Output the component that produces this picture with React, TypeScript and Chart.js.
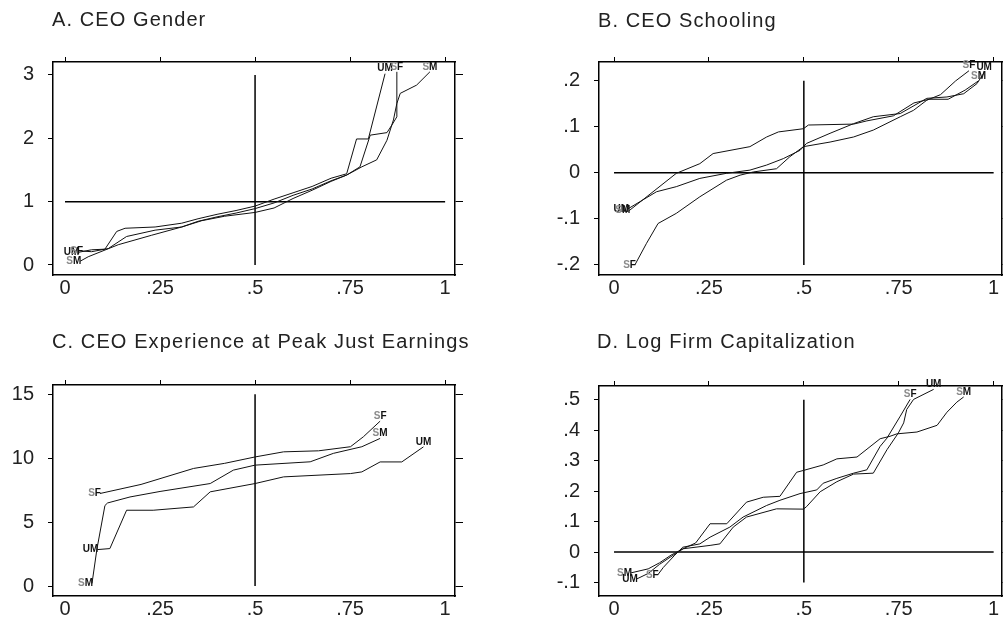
import React, { useEffect, useRef } from "react";
import { Chart, registerables } from "chart.js";

Chart.register(...registerables);

type Pair = [number, number];

// ---------- shared x axis ----------
const xTickValues = [0, 0.25, 0.5, 0.75, 1];
const xTickLabels = ["0", ".25", ".5", ".75", "1"];

// ---------- A. CEO Gender ----------
const genderTitle = "A. CEO Gender";
const genderTicks = [0, 1, 2, 3];
const genderTickLabels = ["0", "1", "2", "3"];
const genderRef = 1;
const genderUM: Pair[] = [
  [0.035, 0.2], [0.07, 0.24], [0.105, 0.25], [0.136, 0.53], [0.158, 0.58], [0.237, 0.6],
  [0.307, 0.66], [0.35, 0.73], [0.4, 0.8], [0.45, 0.86], [0.5, 0.93], [0.55, 1.04],
  [0.6, 1.14], [0.65, 1.24], [0.7, 1.37], [0.741, 1.44], [0.767, 1.99], [0.798, 1.99], [0.842, 3.02],
];
const genderSF: Pair[] = [
  [0.045, 0.22], [0.07, 0.21], [0.114, 0.26], [0.162, 0.45], [0.237, 0.55], [0.307, 0.6],
  [0.35, 0.69], [0.4, 0.76], [0.45, 0.82], [0.5, 0.89], [0.55, 0.98], [0.6, 1.1], [0.65, 1.2],
  [0.7, 1.33], [0.741, 1.42], [0.776, 1.55], [0.803, 2.05], [0.847, 2.09], [0.86, 2.21],
  [0.873, 2.34], [0.873, 3.05],
];
const genderSM: Pair[] = [
  [0.04, 0.06], [0.061, 0.13], [0.14, 0.32], [0.228, 0.47], [0.307, 0.6], [0.36, 0.7],
  [0.42, 0.77], [0.5, 0.83], [0.55, 0.9], [0.6, 1.05], [0.65, 1.18], [0.7, 1.32], [0.741, 1.42],
  [0.781, 1.55], [0.82, 1.66], [0.847, 1.97], [0.864, 2.29], [0.873, 2.55], [0.882, 2.71],
  [0.925, 2.84], [0.96, 3.05],
];

// ---------- B. CEO Schooling ----------
const schoolTitle = "B. CEO Schooling";
const schoolTicks = [-0.2, -0.1, 0, 0.1, 0.2];
const schoolTickLabels = ["-.2", "-.1", "0", ".1", ".2"];
const schoolRef = 0;
const schoolUM: Pair[] = [
  [0.037, -0.078], [0.112, -0.041], [0.164, -0.03], [0.226, -0.012], [0.296, -0.001],
  [0.358, 0.006], [0.402, 0.017], [0.446, 0.031], [0.49, 0.049], [0.507, 0.064], [0.569, 0.086],
  [0.631, 0.107], [0.683, 0.122], [0.754, 0.129], [0.824, 0.162], [0.877, 0.165], [0.921, 0.172],
  [0.956, 0.194], [0.975, 0.218],
];
const schoolSM: Pair[] = [
  [0.04, -0.082], [0.164, -0.001], [0.226, 0.02], [0.261, 0.042], [0.358, 0.057], [0.402, 0.078],
  [0.433, 0.089], [0.499, 0.096], [0.512, 0.104], [0.631, 0.106], [0.666, 0.113], [0.736, 0.124],
  [0.79, 0.152], [0.83, 0.16], [0.88, 0.16], [0.925, 0.18], [0.96, 0.2],
];
const schoolSF: Pair[] = [
  [0.055, -0.2], [0.085, -0.154], [0.116, -0.11], [0.164, -0.088], [0.226, -0.052],
  [0.296, -0.016], [0.332, -0.005], [0.367, 0.002], [0.428, 0.009], [0.463, 0.035],
  [0.499, 0.057], [0.569, 0.067], [0.631, 0.078], [0.683, 0.093], [0.754, 0.122],
  [0.789, 0.136], [0.824, 0.158], [0.86, 0.17], [0.9, 0.2], [0.935, 0.222],
];

// ---------- C. CEO Experience ----------
const expTitle = "C. CEO Experience at Peak Just Earnings";
const expTicks = [0, 5, 10, 15];
const expTickLabels = ["0", "5", "10", "15"];
const expSF: Pair[] = [
  [0.092, 7.24], [0.2, 7.95], [0.338, 9.2], [0.42, 9.6], [0.5, 10.1], [0.575, 10.5],
  [0.667, 10.58], [0.751, 10.9], [0.785, 11.68], [0.829, 12.9],
];
const expSM: Pair[] = [
  [0.071, 0.2], [0.084, 2.9], [0.105, 6.3], [0.112, 6.5], [0.171, 6.97], [0.25, 7.4],
  [0.382, 8.02], [0.443, 9.07], [0.5, 9.46], [0.645, 9.72], [0.706, 10.38], [0.781, 10.9],
  [0.829, 11.55],
];
const expUM: Pair[] = [
  [0.085, 2.85], [0.118, 2.93], [0.162, 5.93], [0.232, 5.93], [0.338, 6.19], [0.382, 7.37],
  [0.5, 8.02], [0.575, 8.54], [0.751, 8.8], [0.781, 8.93], [0.829, 9.71], [0.886, 9.71],
  [0.943, 10.89],
];

// ---------- D. Log Firm Capitalization ----------
const capTitle = "D. Log Firm Capitalization";
const capTicks = [-0.1, 0, 0.1, 0.2, 0.3, 0.4, 0.5];
const capTickLabels = ["-.1", "0", ".1", ".2", ".3", ".4", ".5"];
const capRef = 0;
const capSM: Pair[] = [
  [0.045, -0.068], [0.09, -0.055], [0.12, -0.035], [0.15, -0.01], [0.182, 0.011], [0.215, 0.03],
  [0.253, 0.093], [0.297, 0.093], [0.349, 0.164], [0.393, 0.18], [0.437, 0.183], [0.481, 0.262],
  [0.499, 0.268], [0.551, 0.286], [0.587, 0.306], [0.64, 0.312], [0.701, 0.372], [0.727, 0.38],
  [0.745, 0.388], [0.798, 0.394], [0.851, 0.416], [0.877, 0.459], [0.903, 0.492], [0.921, 0.509],
];
const capUM: Pair[] = [
  [0.06, -0.088], [0.09, -0.07], [0.12, -0.04], [0.15, -0.015], [0.182, 0.011], [0.253, 0.022],
  [0.279, 0.027], [0.314, 0.082], [0.349, 0.115], [0.428, 0.142], [0.499, 0.141], [0.507, 0.149],
  [0.543, 0.198], [0.587, 0.231], [0.631, 0.256], [0.683, 0.259], [0.719, 0.336], [0.749, 0.391],
  [0.763, 0.424], [0.771, 0.468], [0.789, 0.501], [0.842, 0.534],
];
const capSF: Pair[] = [
  [0.115, -0.075], [0.13, -0.05], [0.16, -0.01], [0.181, 0.016], [0.226, 0.027], [0.253, 0.049],
  [0.305, 0.082], [0.34, 0.115], [0.402, 0.153], [0.437, 0.17], [0.49, 0.192], [0.534, 0.204],
  [0.551, 0.226], [0.587, 0.242], [0.631, 0.259], [0.666, 0.27], [0.701, 0.347], [0.719, 0.374],
  [0.754, 0.446], [0.78, 0.501],
];

type PanelDef = {
  title: string;
  series: { name: string; data: Pair[] }[];
  yTicks: number[];
  yLabels: string[];
  hLine: number | null;
};

const panels: PanelDef[] = [
  {
    title: genderTitle,
    series: [{ name: "UM", data: genderUM }, { name: "SF", data: genderSF }, { name: "SM", data: genderSM }],
    yTicks: genderTicks, yLabels: genderTickLabels, hLine: genderRef,
  },
  {
    title: schoolTitle,
    series: [{ name: "UM", data: schoolUM }, { name: "SM", data: schoolSM }, { name: "SF", data: schoolSF }],
    yTicks: schoolTicks, yLabels: schoolTickLabels, hLine: schoolRef,
  },
  {
    title: expTitle,
    series: [{ name: "SF", data: expSF }, { name: "SM", data: expSM }, { name: "UM", data: expUM }],
    yTicks: expTicks, yLabels: expTickLabels, hLine: null,
  },
  {
    title: capTitle,
    series: [{ name: "SM", data: capSM }, { name: "UM", data: capUM }, { name: "SF", data: capSF }],
    yTicks: capTicks, yLabels: capTickLabels, hLine: capRef,
  },
];

// ---------- layout (positions / sizes / axis windows) ----------
type Lay = {
  left: number; top: number; width: number; height: number;
  yW: number; y2W: number; x2H: number; xH: number;
  xMin: number; xMax: number; yMin: number; yMax: number;
  titleLeft: number; titleTop: number;
};
const layouts: Lay[] = [
  { left: 0, top: 0, width: 500, height: 310, yW: 53, y2W: 45, x2H: 62, xH: 35,
    xMin: -0.0316, xMax: 1.026, yMin: -0.158, yMax: 3.205, titleLeft: 52, titleTop: 9 },
  { left: 500, top: 0, width: 503, height: 310, yW: 99, y2W: 1, x2H: 62, xH: 35,
    xMin: -0.0396, xMax: 1.022, yMin: -0.222, yMax: 0.241, titleLeft: 98, titleTop: 10 },
  { left: 0, top: 310, width: 500, height: 318, yW: 53, y2W: 45, x2H: 75, xH: 32,
    xMin: -0.0316, xMax: 1.026, yMin: -0.78, yMax: 15.73, titleLeft: 52, titleTop: 21 },
  { left: 500, top: 310, width: 503, height: 318, yW: 99, y2W: 1, x2H: 76, xH: 32,
    xMin: -0.0396, xMax: 1.022, yMin: -0.144, yMax: 0.545, titleLeft: 97, titleTop: 21 },
];

const FONT = "'Liberation Sans', Arial, sans-serif";

function drawLabel(ctx: CanvasRenderingContext2D, text: string, x: number, y: number, align: "right" | "center") {
  const w = ctx.measureText(text).width;
  let left = align === "right" ? x - w : x - w / 2;
  for (const ch of text) {
    ctx.fillStyle = ch === "S" ? "#8a8a8a" : "#111";
    ctx.fillText(ch, left, y);
    left += ctx.measureText(ch).width;
  }
}

const endLabelsPlugin = {
  id: "endLabels",
  afterDatasetsDraw(chart: any) {
    const ctx: CanvasRenderingContext2D = chart.ctx;
    ctx.save();
    ctx.font = `bold 10px ${FONT}`;
    ctx.textBaseline = "middle";
    ctx.textAlign = "left";
    chart.data.datasets.forEach((ds: any, i: number) => {
      if (!ds.label) return;
      const pts = chart.getDatasetMeta(i).data;
      if (!pts.length) return;
      const a = pts[0];
      const b = pts[pts.length - 1];
      drawLabel(ctx, ds.label, a.x + 1, a.y, "right");
      drawLabel(ctx, ds.label, b.x, b.y - 5, "center");
    });
    ctx.restore();
  },
};

function Panel({ def, lay }: { def: PanelDef; lay: Lay }) {
  const ref = useRef<HTMLCanvasElement>(null);
  useEffect(() => {
    const canvas = ref.current;
    if (!canvas) return;
    const datasets: any[] = def.series.map((s) => ({
      label: s.name,
      data: s.data.map(([x, y]) => ({ x, y })),
      showLine: true,
      borderColor: "#111",
      borderWidth: 1,
      pointRadius: 0,
      fill: false,
      tension: 0,
      xAxisID: "x",
      yAxisID: "y",
    }));
    const refStyle = {
      label: "",
      showLine: true,
      borderColor: "#000",
      borderWidth: 1.5,
      pointRadius: 0,
      fill: false,
      tension: 0,
      xAxisID: "x",
      yAxisID: "y",
    };
    if (def.hLine !== null) {
      datasets.push({ ...refStyle, data: [{ x: 0, y: def.hLine }, { x: 1, y: def.hLine }] });
    }
    datasets.push({
      ...refStyle,
      data: [
        { x: 0.5, y: def.yTicks[0] },
        { x: 0.5, y: def.yTicks[def.yTicks.length - 1] },
      ],
    });

    const setTicks = (vals: number[]) => (scale: any) => {
      scale.ticks = vals.map((v) => ({ value: v }));
    };
    const border = { display: true, color: "#000", width: 1.5 };
    const tickFont = { family: FONT, size: 20 };

    const chart = new Chart(canvas, {
      type: "scatter",
      data: { datasets },
      options: {
        responsive: false,
        animation: false,
        devicePixelRatio: 1,
        events: [],
        layout: { padding: 0 },
        plugins: { legend: { display: false }, tooltip: { enabled: false }, title: { display: false } },
        scales: {
          x: {
            type: "linear", position: "bottom", min: lay.xMin, max: lay.xMax,
            afterBuildTicks: setTicks(xTickValues),
            afterFit: (s: any) => { s.height = lay.xH; },
            grid: { display: false, drawTicks: false },
            border,
            ticks: {
              padding: 1, color: "#222", font: tickFont, maxRotation: 0, autoSkip: false,
              callback: (_v: any, i: number) => xTickLabels[i],
            },
          },
          x2: {
            type: "linear", position: "top", min: lay.xMin, max: lay.xMax,
            afterBuildTicks: setTicks(xTickValues),
            afterFit: (s: any) => { s.height = lay.x2H; },
            grid: { display: true, drawOnChartArea: false, drawTicks: true, tickLength: 5, color: "#000", lineWidth: 1 },
            border,
            ticks: { display: false },
          },
          y: {
            type: "linear", position: "left", min: lay.yMin, max: lay.yMax,
            afterBuildTicks: setTicks(def.yTicks),
            afterFit: (s: any) => { s.width = lay.yW; },
            grid: { display: true, drawOnChartArea: false, drawTicks: true, tickLength: 5, color: "#000", lineWidth: 1 },
            border,
            ticks: {
              padding: 14, color: "#222", font: tickFont, autoSkip: false,
              callback: (_v: any, i: number) => def.yLabels[i],
            },
          },
          y2: {
            type: "linear", position: "right", min: lay.yMin, max: lay.yMax,
            afterBuildTicks: setTicks(def.yTicks),
            afterFit: (s: any) => { s.width = lay.y2W; },
            grid: { display: true, drawOnChartArea: false, drawTicks: true, tickLength: 8, color: "#000", lineWidth: 1 },
            border,
            ticks: { display: false },
          },
        },
      } as any,
      plugins: [endLabelsPlugin],
    });
    return () => chart.destroy();
  }, [def, lay]);

  return (
    <div style={{ position: "absolute", left: lay.left, top: lay.top, width: lay.width, height: lay.height }}>
      <canvas ref={ref} width={lay.width} height={lay.height} style={{ display: "block", width: lay.width, height: lay.height }} />
      <div
        style={{
          position: "absolute", left: lay.titleLeft, top: lay.titleTop,
          font: `20px ${FONT}`, lineHeight: "20px", letterSpacing: "1.1px",
          color: "#222", whiteSpace: "nowrap",
        }}
      >
        {def.title}
      </div>
    </div>
  );
}

export default function App() {
  return (
    <div style={{ position: "fixed", left: 0, top: 0, width: 1003, height: 628, background: "#fff", overflow: "hidden" }}>
      {panels.map((p, i) => (
        <Panel key={i} def={p} lay={layouts[i]} />
      ))}
    </div>
  );
}
